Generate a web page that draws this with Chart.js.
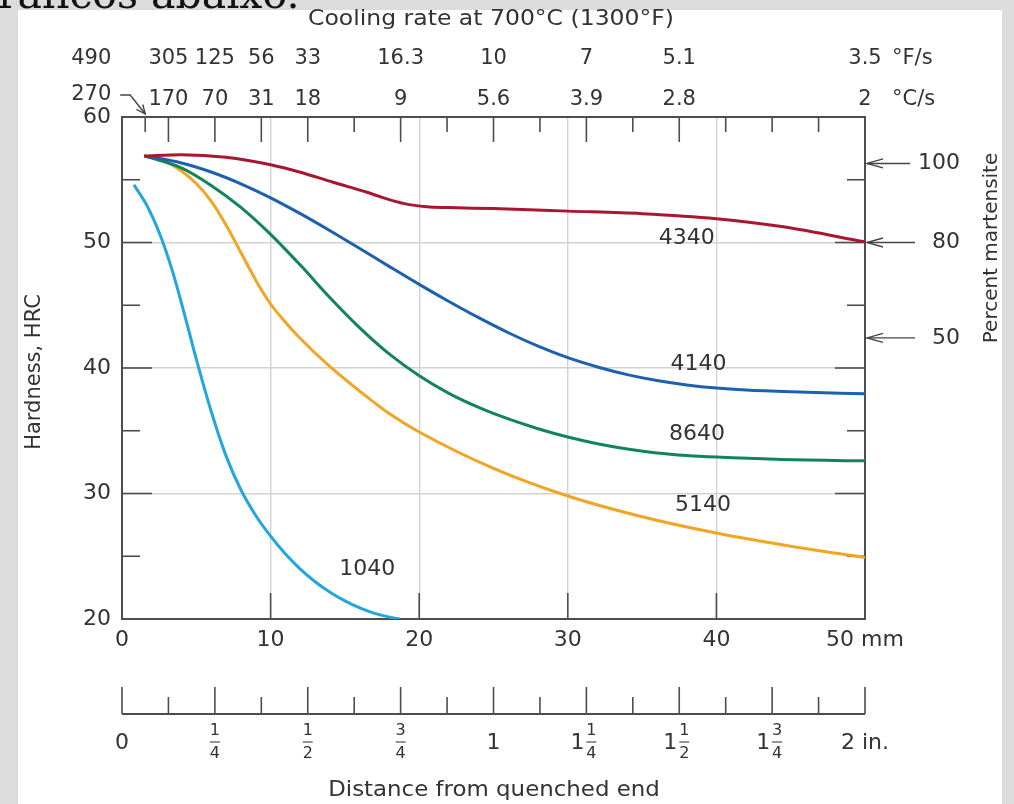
<!DOCTYPE html>
<html>
<head>
<meta charset="utf-8">
<title>Jominy hardenability curves</title>
<script src="https://cdn.jsdelivr.net/npm/chart.js@4.4.1/dist/chart.umd.min.js"></script>
<style>
  html, body { margin: 0; padding: 0; background: #dcdcdc; }
  canvas { display: block; }
</style>
</head>
<body>
<canvas id="chart" width="1014" height="804"></canvas>
<script>
// ============================================
// Jominy end-quench curves (HRC vs distance)
// ============================================

// ---- Data (mm from quenched end, HRC) ----

const x4340 = [1.5, 4, 7, 10, 12, 14.2, 16.5, 17.5, 19, 20.5, 22, 25, 30, 35, 40, 44.5, 50];
const hrc4340 = [56.9, 57.0, 56.8, 56.2, 55.6, 54.8, 54.0, 53.6, 53.1, 52.85, 52.78, 52.7, 52.5, 52.3, 51.9, 51.25, 50.05];

const x4140 = [1.5, 4, 6, 8, 10, 12, 14, 16, 18, 20, 22, 24, 26, 28, 30, 32, 34, 36, 38, 40, 42, 45, 50];
const hrc4140 = [56.9, 56.34, 55.62, 54.68, 53.56, 52.3, 50.94, 49.52, 48.08, 46.66, 45.3, 44.01, 42.81, 41.74,
  40.82, 40.08, 39.47, 39.0, 38.65, 38.4, 38.24, 38.1, 37.95];

const x8640 = [1.5, 4, 6, 8, 10, 12, 14, 16, 18, 20, 22, 24, 26, 28, 30, 32, 34, 36, 38, 40, 44, 50];
const hrc8640 = [56.9, 55.95, 54.55, 52.8, 50.65, 48.2, 45.6, 43.2, 41.1, 39.38, 37.98, 36.86, 35.94, 35.16,
  34.5, 33.96, 33.54, 33.23, 33.03, 32.9, 32.72, 32.6];

const x5140 = [1.5, 3, 4, 5, 6, 7.05, 8, 9, 10, 11, 12, 14, 16, 18, 20, 25, 30, 35, 40, 45, 50];
const hrc5140 = [56.9, 56.4, 55.7, 54.7, 53.3, 51.3, 49.2, 47.0, 45.1, 43.65, 42.35, 40.1, 38.15, 36.35, 34.9,
  32.0, 29.8, 28.15, 26.85, 25.8, 24.9];

const x1040 = [0.8, 1.7, 2.6, 3.4, 4.2, 5, 6, 7, 8, 9, 10, 11, 12, 13, 14, 15, 16, 17, 18, 18.7];
const hrc1040 = [54.6, 52.9, 50.5, 47.7, 44.3, 40.7, 36.55, 33.0, 30.3, 28.25, 26.6, 25.18, 23.98, 22.97,
  22.13, 21.44, 20.88, 20.45, 20.15, 20.0];

// ---- Axes / tick labels ----

const mmTicks = [0, 10, 20, 30, 40, 50];
const mmLabels = ['0', '10', '20', '30', '40', '50 mm'];
const hrcTicks = [20, 30, 40, 50, 60];

const inchTicks = [0, 0.25, 0.5, 0.75, 1, 1.25, 1.5, 1.75, 2];
const inchLabels = ['0', '1/4', '1/2', '3/4', '1', '1 1/4', '1 1/2', '1 3/4', '2 in.'];

// cooling rate at 700 °C, placed at positions in inches
const coolPosIn = [1 / 16, 1 / 8, 1 / 4, 3 / 8, 1 / 2, 3 / 4, 1, 1.25, 1.5, 2];
const coolF = ['490', '305', '125', '56', '33', '16.3', '10', '7', '5.1', '3.5'];
const coolC = ['270', '170', '70', '31', '18', '9', '5.6', '3.9', '2.8', '2'];

// percent martensite marks on the right (HRC level)
const martLabels = ['100', '80', '50'];
const martHrc = [56.3, 50, 42.4];

// curve name labels (anchor in data units)
const curveNames = ['4340', '4140', '8640', '5140', '1040'];
const curveNameX = [38.0, 38.8, 38.7, 39.1, 16.5];
const curveNameY = [50.3, 40.3, 34.7, 29.1, 24.0];

// ---- Styles ----

const SANS = "'DejaVu Sans', 'Verdana', sans-serif";
const TEXT = '#333333';
const FRAME = '#4d4d4d';
const colors = {
  '4340': '#a8172d',
  '4140': '#1c60b0',
  '8640': '#12845a',
  '5140': '#f2a522',
  '1040': '#21a7de'
};

const MM_PER_IN = 25; // the inch scale spans the same width as 0-50 mm

function pts(xs, ys) {
  return xs.map((x, i) => ({ x, y: ys[i] }));
}

function text(ctx, s, x, y, size, align = 'center', sx = 1) {
  ctx.save();
  ctx.translate(x, y);
  ctx.scale(sx, 1);
  ctx.font = `${size}px ${SANS}`;
  ctx.fillStyle = TEXT;
  ctx.textAlign = align;
  ctx.textBaseline = 'middle';
  ctx.fillText(s, 0, 0);
  ctx.restore();
}

function vtext(ctx, s, x, y, size) {
  ctx.save();
  ctx.translate(x, y);
  ctx.rotate(-Math.PI / 2);
  text(ctx, s, 0, 0, size);
  ctx.restore();
}

function line(ctx, x0, y0, x1, y1) {
  ctx.beginPath();
  ctx.moveTo(x0, y0);
  ctx.lineTo(x1, y1);
  ctx.stroke();
}

function arrowHead(ctx, fx, fy, tx, ty, len, half) {
  const a = Math.atan2(ty - fy, tx - fx);
  const bx = tx - len * Math.cos(a), by = ty - len * Math.sin(a);
  const nx = -Math.sin(a) * half, ny = Math.cos(a) * half;
  ctx.beginPath();
  ctx.moveTo(bx + nx, by + ny);
  ctx.lineTo(tx, ty);
  ctx.lineTo(bx - nx, by - ny);
  ctx.stroke();
}

// ---- Plugin: frame, ticks, secondary scales, labels ----

const jominyDecor = {
  id: 'jominyDecor',

  beforeDraw(chart) {
    const { ctx, width, height } = chart;
    ctx.save();
    ctx.fillStyle = '#dcdcdc';
    ctx.fillRect(0, 0, width, height);
    ctx.fillStyle = '#ffffff';
    ctx.fillRect(18, 10, 984, height - 10);
    ctx.fillStyle = '#111111';
    ctx.font = "41px 'DejaVu Serif', serif";
    ctx.textAlign = 'left';
    ctx.textBaseline = 'alphabetic';
    ctx.fillText('ráficos abaixo.', -2, 8);
    ctx.restore();
  },

  beforeDatasetsDraw(chart) {
    const { ctx, chartArea: a, scales: { x, y } } = chart;
    ctx.save();
    ctx.strokeStyle = FRAME;
    ctx.lineWidth = 1.6;

    // left / right ticks
    for (let v = 25; v <= 55; v += 5) {
      const py = y.getPixelForValue(v);
      const len = v % 10 === 0 ? 30 : 18;
      line(ctx, a.left, py, a.left + len, py);
      line(ctx, a.right - len, py, a.right, py);
    }
    // bottom ticks
    mmTicks.slice(1, -1).forEach(v => {
      const px = x.getPixelForValue(v);
      line(ctx, px, a.bottom, px, a.bottom - 26);
    });
    // top ticks every 1/8 in (plus 1/16 in)
    const topTicks = [1 / 16];
    for (let i = 1; i < 16; i++) topTicks.push(i / 8);
    topTicks.forEach(t => {
      const px = x.getPixelForValue(t * MM_PER_IN);
      const labelled = coolPosIn.slice(1).some(c => Math.abs(c - t) < 1e-6);
      line(ctx, px, a.top, px, a.top + (labelled ? 25 : 15));
    });

    // frame
    ctx.lineWidth = 2;
    ctx.strokeRect(a.left, a.top, a.right - a.left, a.bottom - a.top);
    ctx.restore();
  },

  afterDraw(chart) {
    const { ctx, chartArea: a, scales: { x, y } } = chart;
    ctx.save();

    // left axis numbers
    hrcTicks.forEach(v => text(ctx, String(v), a.left - 11, y.getPixelForValue(v), 22, 'right'));
    // mm numbers
    mmTicks.forEach((v, i) => text(ctx, mmLabels[i], x.getPixelForValue(v), a.bottom + 21, 22));

    vtext(ctx, 'Hardness, HRC', 35, 372, 21);

    // title + cooling rate rows
    text(ctx, 'Cooling rate at 700°C (1300°F)', 491, 20, 21, 'center', 1.12);
    coolPosIn.forEach((t, i) => {
      const px = x.getPixelForValue(t * MM_PER_IN);
      const lx = i === 0 ? px - 54 : px;
      text(ctx, coolF[i], lx, 59, 21);
      text(ctx, coolC[i], lx, i === 0 ? 95 : 100, 21);
    });
    text(ctx, '°F/s', 892, 59, 21, 'left');
    text(ctx, '°C/s', 892, 100, 21, 'left');

    // hooked arrow from "270" to the 1/16 in tick
    ctx.strokeStyle = '#444';
    ctx.lineWidth = 1.4;
    const tip = x.getPixelForValue(coolPosIn[0] * MM_PER_IN);
    ctx.beginPath();
    ctx.moveTo(tip - 25, 95);
    ctx.lineTo(tip - 15, 95);
    ctx.lineTo(tip, a.top - 3);
    ctx.stroke();
    arrowHead(ctx, tip - 15, 95, tip, a.top - 3, 9, 4);

    // percent martensite
    martLabels.forEach((s, i) => {
      const py = y.getPixelForValue(martHrc[i]);
      ctx.font = `22px ${SANS}`;
      const w = ctx.measureText(s).width;
      const tail = Math.min(915, 960 - w - 8);
      line(ctx, a.right + 2, py, tail, py);
      arrowHead(ctx, tail, py, a.right + 2, py, 16, 4.5);
      text(ctx, s, 960, py, 22, 'right');
    });
    vtext(ctx, 'Percent martensite', 992, 248, 20);

    // curve names
    curveNames.forEach((n, i) => {
      text(ctx, n, x.getPixelForValue(curveNameX[i]), y.getPixelForValue(curveNameY[i]), 22);
    });

    // inch scale below
    const iy = 714;
    ctx.strokeStyle = FRAME;
    ctx.lineWidth = 2;
    line(ctx, x.getPixelForValue(0), iy, x.getPixelForValue(2 * MM_PER_IN), iy);
    ctx.lineWidth = 1.6;
    for (let i = 0; i <= 16; i++) {
      const px = x.getPixelForValue(i / 8 * MM_PER_IN);
      line(ctx, px, iy, px, iy - (i % 2 === 0 ? 27 : 17));
    }
    inchTicks.forEach((t, i) => {
      const px = x.getPixelForValue(t * MM_PER_IN);
      const lab = inchLabels[i];
      if (!lab.includes('/')) {
        text(ctx, lab, px, 743, 22);
        return;
      }
      const parts = lab.split(' ');
      const frac = parts[parts.length - 1].split('/');
      const fx = parts.length > 1 ? px + 5 : px;
      if (parts.length > 1) text(ctx, parts[0], px - 2, 743, 22, 'right');
      text(ctx, frac[0], fx, 731, 16);
      text(ctx, frac[1], fx, 754, 16);
      ctx.lineWidth = 1.2;
      line(ctx, fx - 5, 742, fx + 5, 742);
    });
    text(ctx, 'Distance from quenched end', 494, 791, 21, 'center', 1.09);

    ctx.restore();
  }
};

// ---- Chart ----

const series = [
  ['4340', x4340, hrc4340],
  ['4140', x4140, hrc4140],
  ['8640', x8640, hrc8640],
  ['5140', x5140, hrc5140],
  ['1040', x1040, hrc1040]
];

const ctx = document.getElementById('chart').getContext('2d');

new Chart(ctx, {
  type: 'scatter',
  data: {
    datasets: series.map(([name, xs, ys]) => ({
      label: name,
      data: pts(xs, ys),
      showLine: true,
      borderColor: colors[name],
      borderWidth: 3,
      pointRadius: 0,
      cubicInterpolationMode: 'monotone',
      fill: false
    }))
  },
  options: {
    responsive: false,
    animation: false,
    events: [],
    layout: { padding: { left: 122, top: 117, right: 149, bottom: 185 } },
    plugins: {
      legend: { display: false },
      tooltip: { enabled: false }
    },
    scales: {
      x: {
        type: 'linear',
        min: 0,
        max: 50,
        ticks: { display: false, stepSize: 10 },
        grid: { color: '#d2d2d2', lineWidth: 1.4, drawTicks: false },
        border: { display: false },
        afterFit: (s) => { s.height = 0; }
      },
      y: {
        type: 'linear',
        min: 20,
        max: 60,
        ticks: { display: false, stepSize: 10 },
        grid: { color: '#d2d2d2', lineWidth: 1.4, drawTicks: false },
        border: { display: false },
        afterFit: (s) => { s.width = 0; }
      }
    }
  },
  plugins: [jominyDecor]
});
</script>
</body>
</html>
